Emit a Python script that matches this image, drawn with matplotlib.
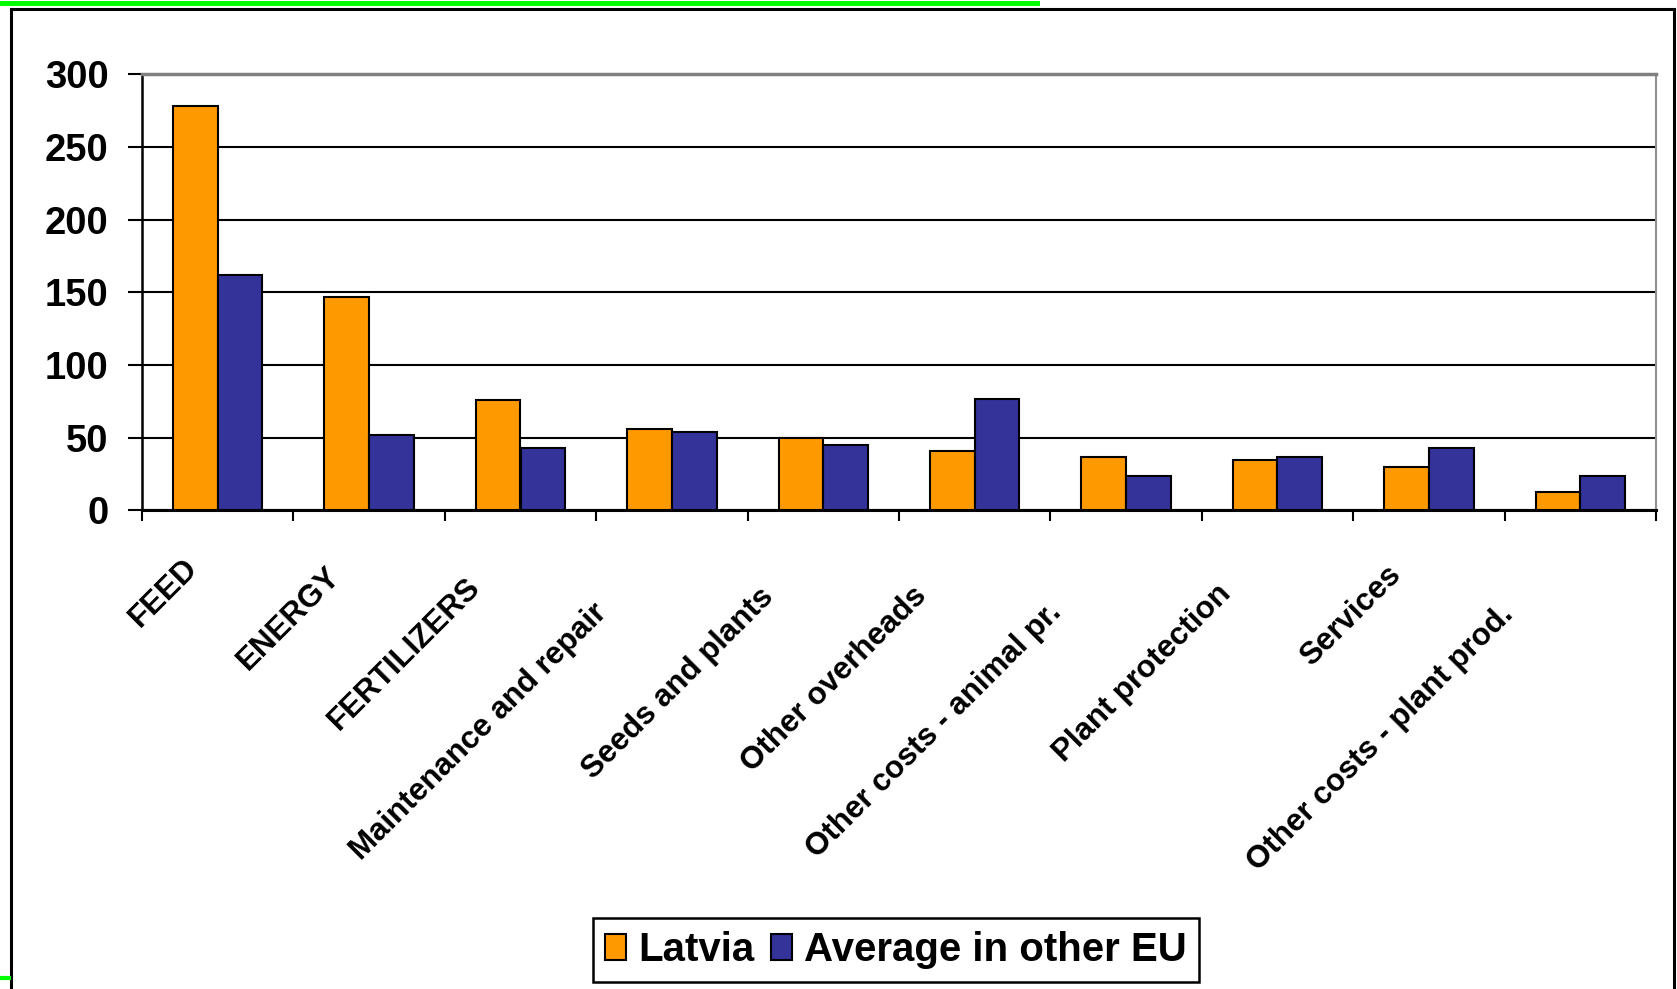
import matplotlib
matplotlib.use("Agg")
import matplotlib.pyplot as plt
import numpy as np
from matplotlib.lines import Line2D

plt.rcParams['font.family'] = ['Liberation Sans', 'DejaVu Sans']
plt.rcParams['font.weight'] = 'bold'

categories = ['FEED', 'ENERGY', 'FERTILIZERS', 'Maintenance and repair',
              'Seeds and plants', 'Other overheads', 'Other costs - animal pr.',
              'Plant protection', 'Services', 'Other costs - plant prod.']
latvia = [278, 147, 76, 56, 50, 41, 37, 35, 30, 13]
other_eu = [162, 52, 43, 54, 45, 77, 24, 37, 43, 24]
y_ticks = [0, 50, 100, 150, 200, 250, 300]

W, H = 1677, 989
fig = plt.figure(figsize=(W / 100, H / 100), dpi=100)
ax = fig.add_axes([142 / W, 1 - 510.5 / H, (1656 - 142) / W, (510.5 - 74.5) / H])

x = np.arange(len(categories))
bw = 0.295
ax.bar(x - bw / 2, latvia, bw, color='#FF9900', edgecolor='black', linewidth=1.5,
       label='Latvia', zorder=3)
ax.bar(x + bw / 2, other_eu, bw, color='#333399', edgecolor='black', linewidth=1.5,
       label='Average in other EU', zorder=3)

ax.set_xlim(-0.5, len(categories) - 0.5)
ax.set_ylim(0, 300)
ax.set_yticks(y_ticks)
ax.yaxis.grid(True, color='black', linewidth=1.5, zorder=1)
ax.set_axisbelow(True)

ax.set_xticks(np.arange(-0.5, len(categories), 1))
ax.set_xticklabels([])
ax.tick_params(axis='x', length=8, width=1.5, direction='out')
ax.tick_params(axis='y', length=10, width=1.5, pad=14, labelsize=27.5)

ax.spines['top'].set_color('#808080')
ax.spines['top'].set_linewidth(2.5)
ax.spines['right'].set_color('#909090')
ax.spines['right'].set_linewidth(1.5)
ax.spines['left'].set_linewidth(1.8)
ax.spines['bottom'].set_linewidth(2.2)

# rotated category labels: top-right corner slides left/down with label length
r = fig.canvas.get_renderer()
for i, lab in enumerate(categories):
    cx, cy = ax.transData.transform((i, 0))
    txt = fig.text(0, 0, lab, fontsize=22.5, fontweight='bold', rotation=45,
                   ha='right', va='top')
    bw_px = txt.get_window_extent(r).width - 9
    shift = 1.5 + 0.239 * bw_px
    txt.set_position(((cx - shift + 4.5) / W, (cy - shift - 23.5) / H))

leg = fig.legend(loc='center', bbox_to_anchor=(896 / W, 1 - 950 / H), ncol=2,
                 fontsize=29, handlelength=0.52, handleheight=0.6,
                 handletextpad=0.3, columnspacing=0.4, borderpad=0.32,
                 fancybox=False, framealpha=1, edgecolor='black')
leg.get_frame().set_linewidth(1.8)

# slide frame and green marks
fig.add_artist(Line2D([10.5 / W, 1673.5 / W], [1 - 8.5 / H, 1 - 8.5 / H],
                      transform=fig.transFigure, color='black', linewidth=2.2))
fig.add_artist(Line2D([10.5 / W, 10.5 / W], [0, 1 - 8.5 / H],
                      transform=fig.transFigure, color='black', linewidth=2.2))
fig.add_artist(Line2D([1673.5 / W, 1673.5 / W], [0, 1 - 8.5 / H],
                      transform=fig.transFigure, color='black', linewidth=2.2))
fig.add_artist(Line2D([0, 1037 / W], [1 - 2.5 / H, 1 - 2.5 / H],
                      transform=fig.transFigure, color='#00FF00', linewidth=3.6))
fig.add_artist(Line2D([0, 9 / W], [1 - 978 / H, 1 - 978 / H],
                      transform=fig.transFigure, color='#00FF00', linewidth=3))

fig.savefig('out.png', dpi=100)
